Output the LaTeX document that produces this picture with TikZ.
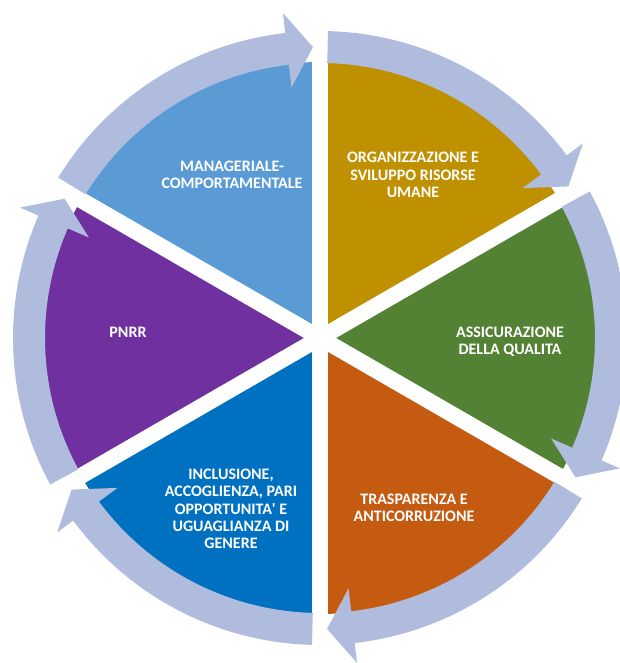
\documentclass[tikz,border=0pt]{standalone}
\usepackage{fontspec}
\setmainfont{Carlito}
\definecolor{manblue}{RGB}{91,155,213}
\definecolor{orggold}{RGB}{191,144,0}
\definecolor{qualgreen}{RGB}{84,130,53}
\definecolor{traorange}{RGB}{197,90,17}
\definecolor{incblue}{RGB}{0,112,192}
\definecolor{pnrrpurple}{RGB}{112,48,160}
\definecolor{ringblue}{RGB}{175,188,222}
\begin{document}
\begin{tikzpicture}[x=0.75pt,y=0.75pt,
    sectortext/.style={text=white,font=\fontsize{12}{13}\selectfont\bfseries,align=center},
    ringarrow/.style={fill=ringblue}]
    \useasboundingbox (-320,-325) rectangle (300,338);

    % Draw the pie sectors
    \foreach \a/\col in {90/manblue, 30/orggold, -30/qualgreen, -90/traorange, -150/incblue, 150/pnrrpurple} {
        \fill[\col] (0,0) -- (\a:276) arc[start angle=\a, end angle=\a+60, radius=276] -- cycle;
    }

    % Draw the white gaps between the sectors
    \foreach \a in {90,30,150} {
        \draw[white,line width=12pt] (\a:277) -- (\a+180:277);
    }

    % Draw the arrows of the outer ring
    \foreach \a in {150,90,30,-30,-90,-150} {
        \pgfmathsetmacro\s{\a-1.5}
        \pgfmathsetmacro\b{\a-53.5}
        \pgfmathsetmacro\t{\a-58.6}
        \fill[ringarrow] (\s:275) arc[start angle=\s, end angle=\b, radius=275]
            -- (\b:252) -- (\t:291) -- (\b:327) -- (\b:307)
            arc[start angle=\b, end angle=\s, radius=307] -- cycle;
    }

    % Draw the labels
    \node[sectortext] (man) at (-88,163) {MANAGERIALE-\\COMPORTAMENTALE};
    \node[sectortext] (org) at (93,163) {ORGANIZZAZIONE E\\SVILUPPO RISORSE\\UMANE};
    \node[sectortext] (qual) at (190,-4) {ASSICURAZIONE\\DELLA QUALITA};
    \node[sectortext] (tra) at (94,-170) {TRASPARENZA E\\ANTICORRUZIONE};
    \node[sectortext] (inc) at (-89,-171) {INCLUSIONE,\\ACCOGLIENZA, PARI\\OPPORTUNITA\textquotesingle{} E\\UGUAGLIANZA DI\\GENERE};
    \node[sectortext] (pnrr) at (-192,6) {PNRR};
\end{tikzpicture}
\end{document}
